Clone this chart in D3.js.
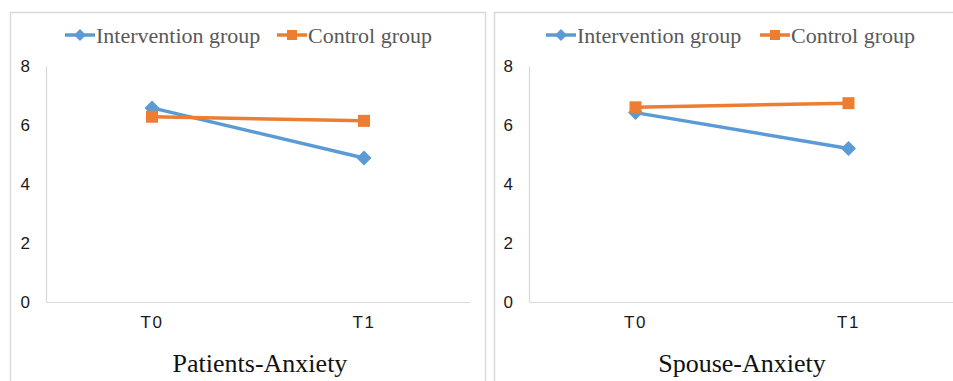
<!DOCTYPE html>
<html>
<head>
<meta charset="utf-8">
<script src="https://cdn.jsdelivr.net/npm/d3@7/dist/d3.min.js"></script>
<style>
  html, body { margin: 0; padding: 0; background: #fff; }
  svg { display: block; }
</style>
</head>
<body>
<svg id="chart" width="953" height="381"></svg>
<script>
// Time points shared by both panels
const timePoints = ["T0", "T1"];
const yTicks = [0, 2, 4, 6, 8];
const seriesNames = ["Intervention group", "Control group"];

// Mean anxiety scores per panel
const patientsIntervention = [6.58, 4.88];
const patientsControl = [6.28, 6.14];
const spouseIntervention = [6.42, 5.2];
const spouseControl = [6.6, 6.74];

const panelTitles = ["Patients-Anxiety", "Spouse-Anxiety"];

const colors = { "Intervention group": "#5B9BD5", "Control group": "#ED7D31" };

const panels = [
  { title: panelTitles[0], series: [patientsIntervention, patientsControl],
    frame: { x: 10, y: 12, w: 475, h: 380 },
    plot: { x0: 46, x1: 470, y0: 66, y1: 302 },
    legendX: [65, 277], titleX: 260 },
  { title: panelTitles[1], series: [spouseIntervention, spouseControl],
    frame: { x: 494, y: 12, w: 470, h: 380 },
    plot: { x0: 529, x1: 955, y0: 66, y1: 302 },
    legendX: [546, 760], titleX: 742 }
];

const svg = d3.select("#chart");

function marker(g, name, cx, cy, r) {
  if (name === "Intervention group") {
    g.append("path")
      .attr("d", `M${cx},${cy - r}L${cx + r},${cy}L${cx},${cy + r}L${cx - r},${cy}Z`)
      .attr("fill", colors[name]);
  } else {
    g.append("rect")
      .attr("x", cx - r).attr("y", cy - r)
      .attr("width", 2 * r).attr("height", 2 * r)
      .attr("fill", colors[name]);
  }
}

panels.forEach(p => {
  const g = svg.append("g");

  // panel frame
  g.append("rect")
    .attr("x", p.frame.x + 0.5).attr("y", p.frame.y + 0.5)
    .attr("width", p.frame.w).attr("height", p.frame.h)
    .attr("fill", "#fff").attr("stroke", "#d9d9d9").attr("stroke-width", 1.5);

  const x = d3.scaleBand().domain(timePoints).range([p.plot.x0, p.plot.x1]);
  const y = d3.scaleLinear().domain([0, 8]).range([p.plot.y1, p.plot.y0]);

  // y axis
  const ya = g.append("g")
    .attr("transform", `translate(${p.plot.x0},0)`)
    .call(d3.axisLeft(y).tickValues(yTicks).tickSize(0).tickPadding(16));
  ya.select(".domain").attr("stroke", "#d9d9d9").attr("stroke-width", 1.2);
  ya.selectAll("text")
    .style("font-family", "'Liberation Sans', Arial, sans-serif")
    .style("font-size", "17px").attr("fill", "#1a1a1a");

  // x axis
  const xa = g.append("g")
    .attr("transform", `translate(0,${p.plot.y1})`)
    .call(d3.axisBottom(x).tickSize(0).tickPadding(14));
  xa.select(".domain").attr("stroke", "#d9d9d9").attr("stroke-width", 1.2);
  xa.selectAll("text")
    .style("font-family", "'Liberation Sans', Arial, sans-serif")
    .style("font-size", "17px").style("letter-spacing", "1.5px")
    .attr("fill", "#1a1a1a");

  // series lines and markers
  const line = d3.line()
    .x((d, i) => x(timePoints[i]) + x.bandwidth() / 2)
    .y(d => y(d));

  seriesNames.forEach((name, si) => {
    const vals = p.series[si];
    g.append("path")
      .datum(vals)
      .attr("d", line)
      .attr("fill", "none")
      .attr("stroke", colors[name])
      .attr("stroke-width", 3.5);
    vals.forEach((v, i) => {
      marker(g, name, x(timePoints[i]) + x.bandwidth() / 2, y(v),
        name === "Intervention group" ? 7.5 : 6);
    });
  });

  // legend
  seriesNames.forEach((name, si) => {
    const lx = p.legendX[si];
    const ly = 35;
    g.append("line")
      .attr("x1", lx).attr("x2", lx + 30)
      .attr("y1", ly).attr("y2", ly)
      .attr("stroke", colors[name]).attr("stroke-width", 3.5);
    marker(g, name, lx + 15, ly, name === "Intervention group" ? 6 : 5);
    g.append("text")
      .attr("x", lx + 31).attr("y", ly + 8)
      .style("font-family", "'Liberation Serif', 'Times New Roman', serif")
      .style("font-size", "22px").attr("fill", "#595959")
      .text(name);
  });

  // panel title
  g.append("text")
    .attr("x", p.titleX)
    .attr("y", 372)
    .attr("text-anchor", "middle")
    .style("font-family", "'Liberation Serif', 'Times New Roman', serif")
    .style("font-size", "26px").attr("fill", "#111")
    .text(p.title);
});
</script>
</body>
</html>
